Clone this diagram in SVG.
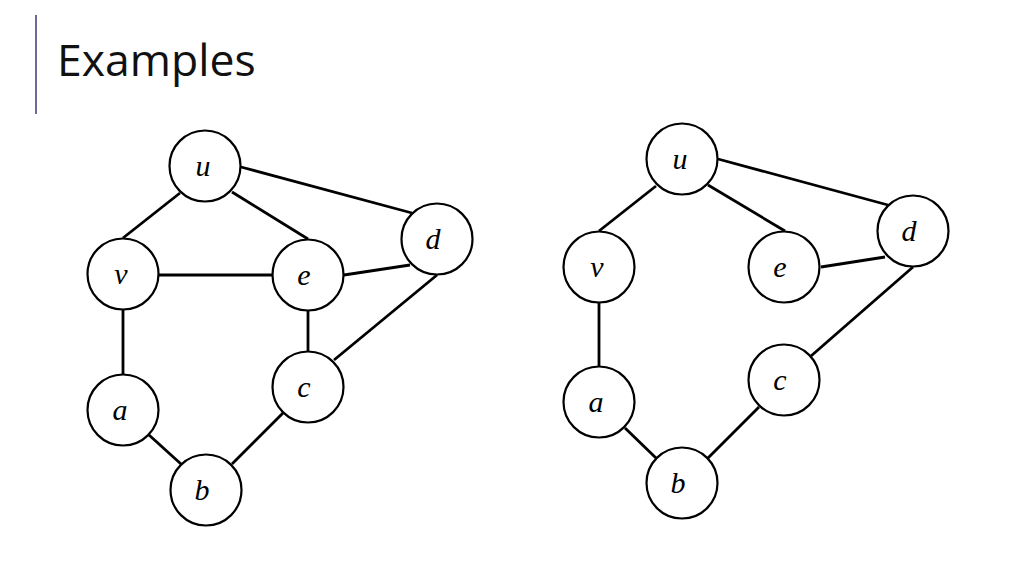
<svg xmlns="http://www.w3.org/2000/svg" width="1024" height="576" viewBox="0 0 1024 576">
<style>
.node circle{fill:#fff;stroke:#000;stroke-width:2.2}
.node text{font-family:"Liberation Serif","DejaVu Serif",serif;font-style:italic;font-size:30px;fill:#000;text-anchor:middle}
#edges line{stroke:#000;stroke-width:2.8;stroke-linecap:butt}
.title{font-family:"Open Sans","Noto Sans",sans-serif;font-size:44.5px;fill:#111}
</style>
<rect width="1024" height="576" fill="#fff"/>
<line x1="36" y1="15" x2="36" y2="114" stroke="#6e6a96" stroke-width="2"/>
<text class="title" x="57" y="76">Examples</text>
<g id="edges">
<line x1="180" y1="193" x2="123" y2="238"/>
<line x1="232" y1="192" x2="308" y2="239"/>
<line x1="241" y1="167" x2="412" y2="213"/>
<line x1="159" y1="275" x2="273" y2="275"/>
<line x1="344" y1="275" x2="410" y2="265"/>
<line x1="437" y1="275" x2="334" y2="360"/>
<line x1="308" y1="310" x2="308" y2="352"/>
<line x1="123" y1="310" x2="123" y2="374"/>
<line x1="149" y1="435" x2="181" y2="464"/>
<line x1="232" y1="464" x2="283" y2="413"/>
<line x1="656" y1="186" x2="599" y2="231"/>
<line x1="708" y1="185" x2="785" y2="231"/>
<line x1="718" y1="159" x2="888" y2="205"/>
<line x1="821" y1="267" x2="885" y2="257"/>
<line x1="913" y1="267" x2="811" y2="356"/>
<line x1="599" y1="303" x2="599" y2="367"/>
<line x1="625" y1="428" x2="656" y2="458"/>
<line x1="708" y1="458" x2="759" y2="407"/>
</g>
<g id="L-u" class="node"><circle cx="205" cy="166" r="35.5"/><text x="203" y="176">u</text></g>
<g id="L-v" class="node"><circle cx="123" cy="274" r="35.5"/><text x="121" y="284">v</text></g>
<g id="L-e" class="node"><circle cx="308" cy="275" r="35.5"/><text x="304" y="285">e</text></g>
<g id="L-d" class="node"><circle cx="437" cy="239" r="35.5"/><text x="433" y="249">d</text></g>
<g id="L-a" class="node"><circle cx="123" cy="410" r="35.5"/><text x="120" y="420">a</text></g>
<g id="L-c" class="node"><circle cx="308" cy="387" r="35.5"/><text x="304" y="397">c</text></g>
<g id="L-b" class="node"><circle cx="206" cy="490" r="35.5"/><text x="202" y="500">b</text></g>
<g id="R-u" class="node"><circle cx="682" cy="159" r="35.5"/><text x="680" y="169">u</text></g>
<g id="R-v" class="node"><circle cx="599" cy="267" r="35.5"/><text x="597" y="277">v</text></g>
<g id="R-e" class="node"><circle cx="784" cy="267" r="35.5"/><text x="780" y="277">e</text></g>
<g id="R-d" class="node"><circle cx="913" cy="231" r="35.5"/><text x="909" y="241">d</text></g>
<g id="R-a" class="node"><circle cx="599" cy="402" r="35.5"/><text x="596" y="412">a</text></g>
<g id="R-c" class="node"><circle cx="784" cy="380" r="35.5"/><text x="780" y="390">c</text></g>
<g id="R-b" class="node"><circle cx="682" cy="483" r="35.5"/><text x="678" y="493">b</text></g>
</svg>
